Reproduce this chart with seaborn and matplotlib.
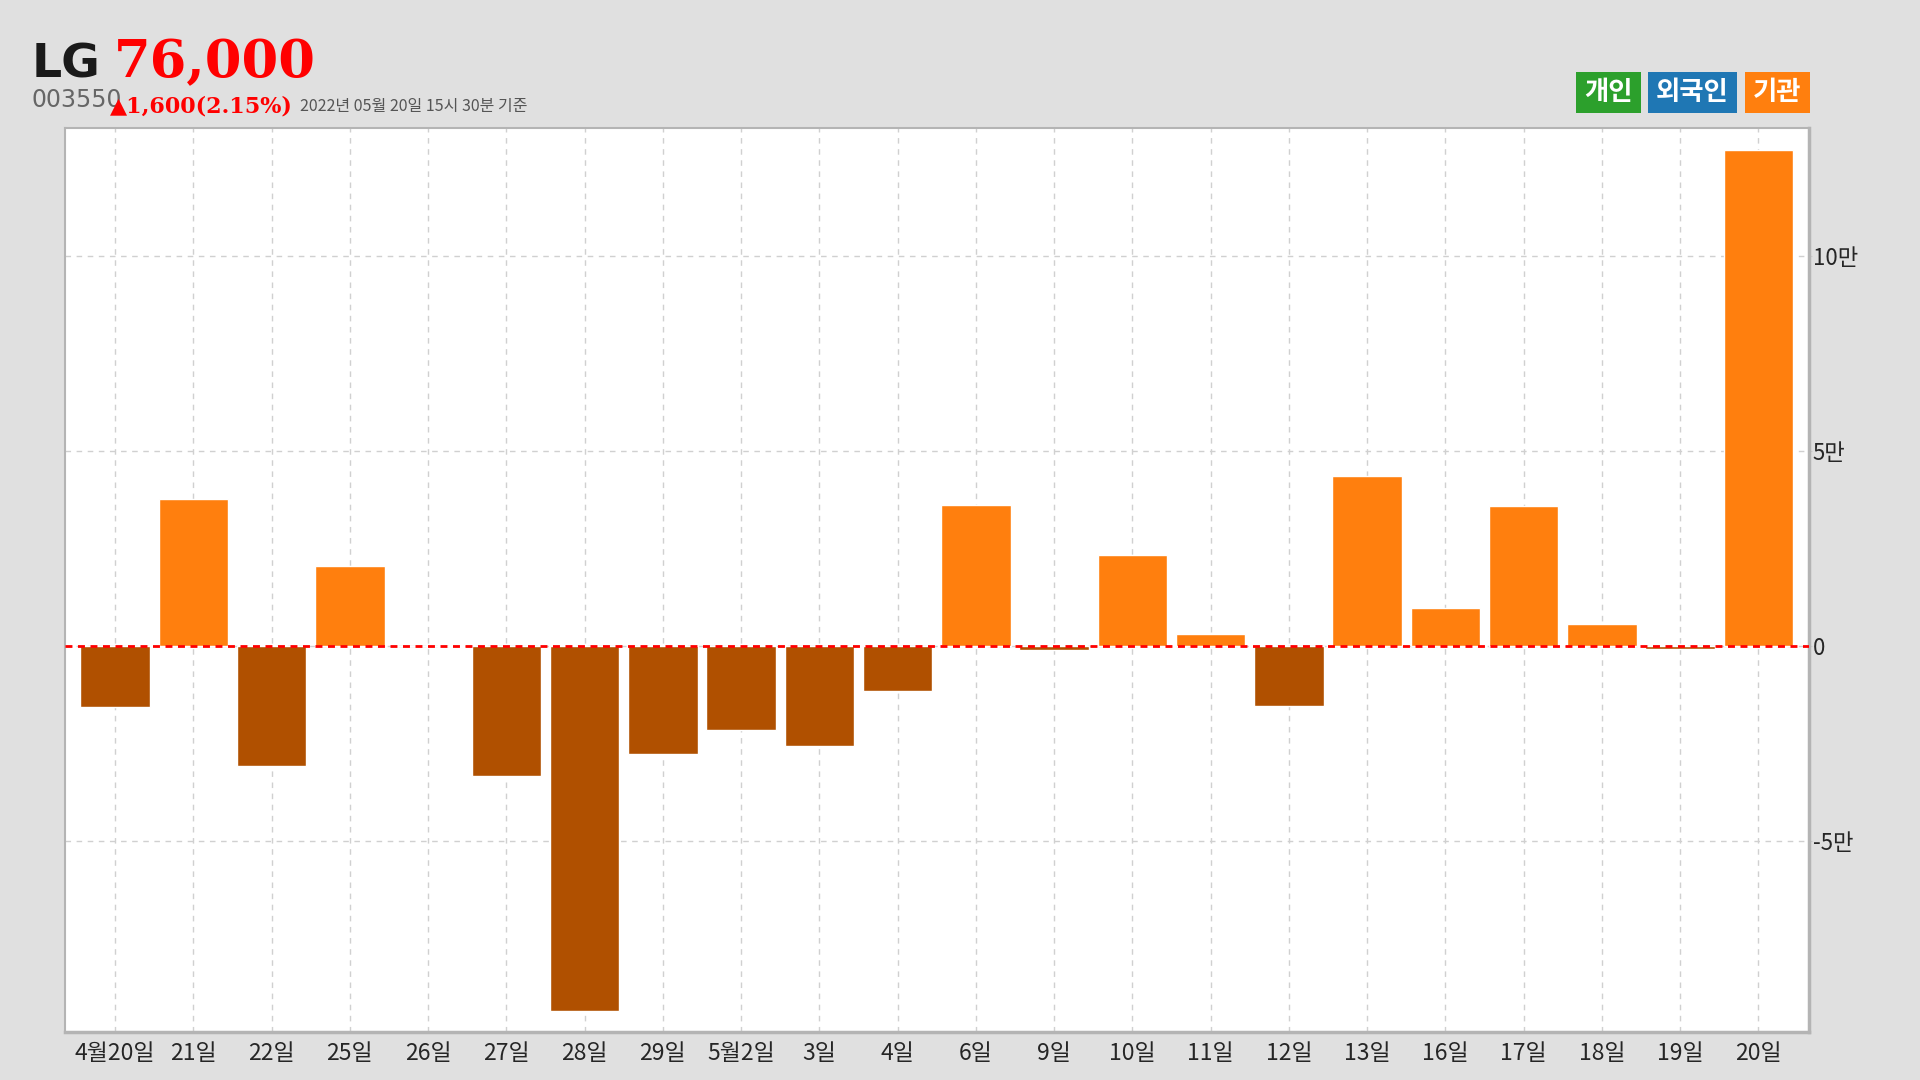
import matplotlib
matplotlib.use("Agg")
import matplotlib.pyplot as plt
from matplotlib.patches import Rectangle
import numpy as np
import pandas as pd
import seaborn as sns

# institutional net buying, LG (003550)
dates = ['4월20일', '21일', '22일', '25일', '26일', '27일', '28일', '29일', '5월2일', '3일',
         '4일', '6일', '9일', '10일', '11일', '12일', '13일', '16일', '17일', '18일',
         '19일', '20일']
values = [-15700, 37700, -30800, 20400, 0, -33300, -93700, -27700, -21700, -25800,
          -11600, 36200, -1100, 23300, 3100, -15400, 43400, 9700, 35800, 5700,
          -900, 127000]

ytick_vals = [-50000, 0, 50000, 100000]
ytick_labels = ['-5만', '0', '5만', '10만']

legend_names = ['개인', '외국인', '기관']
legend_colors = ['#2ca02c', '#1f77b4', '#ff7f0e']

sns.set_style("white")
plt.rcParams['font.family'] = ['Noto Sans CJK KR', 'DejaVu Sans']

df = pd.DataFrame({'date': dates, 'value': values})
df['sign'] = np.where(df['value'] >= 0, 'pos', 'neg')

fig = plt.figure(figsize=(19.2, 10.8), dpi=100, facecolor='#e0e0e0')
ax = fig.add_axes([0.0338, 0.0444, 0.942 - 0.0338, 0.8815 - 0.0444])
ax.set_facecolor('white')

sns.barplot(data=df, x='date', y='value', hue='sign', order=dates,
            palette={'pos': '#ff7f0e', 'neg': '#b05000'}, dodge=False,
            width=0.89, saturation=1, legend=False, ax=ax, zorder=2)

ax.set_xlim(-0.642, 21.642)
ax.set_ylim(-99000, 132700)
ax.set_axisbelow(True)
ax.grid(True, color='#d0d0d0', linestyle=(0, (4, 4)), lw=1)
ax.axhline(0, color='#ff0000', linestyle=(0, (2.5, 2)), lw=2, zorder=5)

ax.yaxis.tick_right()
ax.set_yticks(ytick_vals)
ax.set_yticklabels(ytick_labels)
ax.tick_params(axis='y', length=2, color='#cccccc', labelsize=16, pad=1, right=True)
ax.tick_params(axis='x', length=0, labelsize=16.5, pad=7)
ax.set_xlabel('')
ax.set_ylabel('')
for sp in ax.spines.values():
    sp.set_color('#b4b4b4')
    sp.set_linewidth(1.5)
ax.spines['right'].set_linewidth(2.5)
ax.spines['bottom'].set_linewidth(2.5)

# header
fig.text(0.0166, 0.928, 'LG', fontsize=34, fontweight='bold', color='#1a1a1a',
         family='DejaVu Sans')
fig.text(0.0594, 0.929, '76,000', fontsize=38, fontweight='bold', color='#ff0000',
         family='DejaVu Serif')
fig.text(0.0166, 0.901, '003550', fontsize=17, color='#666666', family='DejaVu Sans')
fig.text(0.057, 0.8957, '▲1,600(2.15%)', fontsize=16, fontweight='bold',
         color='#ff0000', family='DejaVu Serif')
fig.text(0.156, 0.897, '2022년 05월 20일 15시 30분 기준', fontsize=11.5, color='#555555')

# legend boxes
box_x = [1576, 1648, 1745]
box_w = [65, 89, 65]
for name, col, bx, bw in zip(legend_names, legend_colors, box_x, box_w):
    fig.patches.append(Rectangle((bx / 1920, 1 - 113 / 1080), bw / 1920, 41 / 1080,
                                 transform=fig.transFigure, facecolor=col,
                                 edgecolor='none'))
    fig.text((bx + bw / 2) / 1920, 1 - 92.5 / 1080, name, fontsize=19,
             fontweight='bold', color='white', ha='center', va='center')

plt.savefig('out.png', dpi=100, facecolor=fig.get_facecolor())
